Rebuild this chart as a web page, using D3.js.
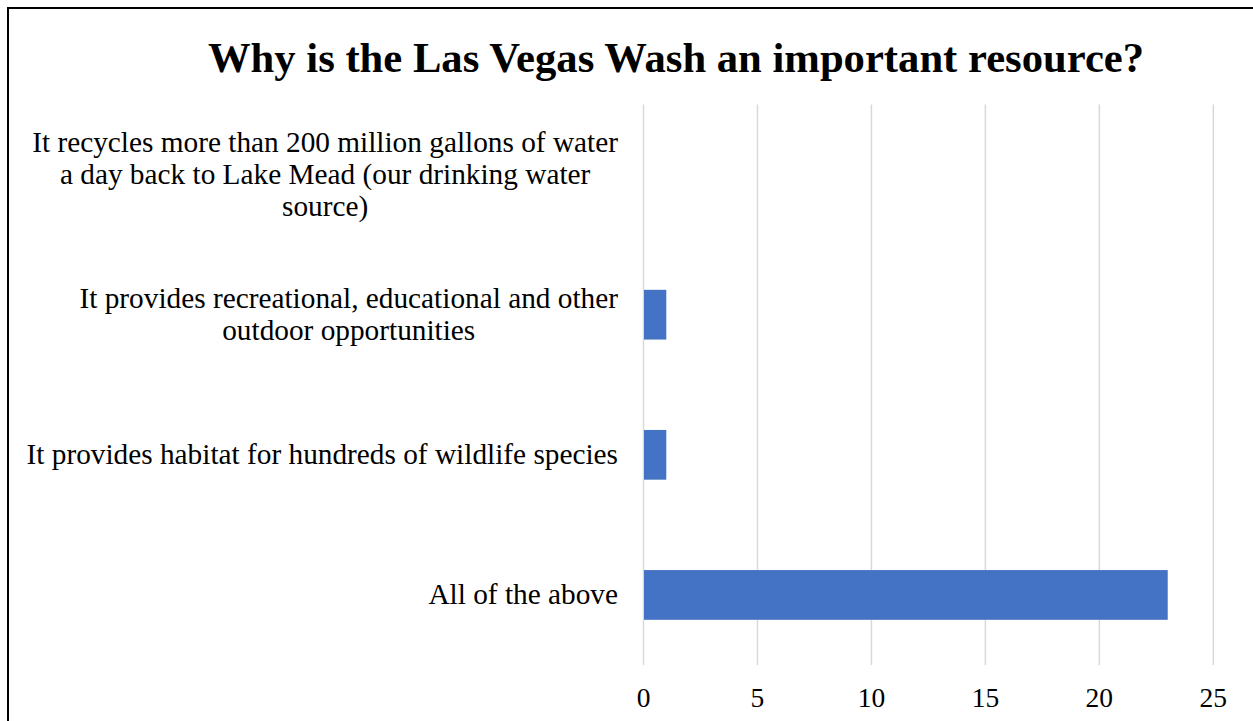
<!DOCTYPE html>
<html>
<head>
<meta charset="utf-8">
<script src="https://cdn.jsdelivr.net/npm/d3@7"></script>
<style>
  body { margin: 0; background: #fff; }
  text { font-family: "Liberation Serif", "Times New Roman", serif; fill: #000; }
</style>
</head>
<body>
<div id="chart"></div>
<script>
// answer options, top to bottom
var categories = [
  "It recycles more than 200 million gallons of water|a day back to Lake Mead (our drinking water|source)",
  "It provides recreational, educational and other|outdoor opportunities",
  "It provides habitat for hundreds of wildlife species",
  "All of the above"
];
var counts = [0, 1, 1, 23];
var xTicks = [0, 5, 10, 15, 20, 25];
var title = "Why is the Las Vegas Wash an important resource?";

var W = 1253, H = 721;
var margin = {top: 104.5, right: 40, bottom: 56, left: 643.5};

var svg = d3.select("#chart")
  .append("svg")
    .attr("width", W)
    .attr("height", H);

// chart border (only top/left visible in frame)
svg.append("rect")
  .attr("x", 8).attr("y", 8)
  .attr("width", W + 20).attr("height", H + 20)
  .attr("fill", "none")
  .attr("stroke", "#000")
  .attr("stroke-width", 2);

var x = d3.scaleLinear()
  .domain([0, 25])
  .range([margin.left, 1213.3]);

var y = d3.scaleBand()
  .domain(d3.range(categories.length))
  .range([margin.top, 665])
  .paddingInner(0.645)
  .paddingOuter(0.3225);

// gridlines
svg.append("g")
  .selectAll("line")
  .data(xTicks)
  .enter()
  .append("line")
    .attr("x1", function(d) { return x(d); })
    .attr("x2", function(d) { return x(d); })
    .attr("y1", margin.top)
    .attr("y2", 665)
    .attr("stroke", "#d9d9d9")
    .attr("stroke-width", 1.5);

// bars
svg.append("g")
  .selectAll("rect")
  .data(counts)
  .enter()
  .append("rect")
    .attr("x", x(0) + 0.5)
    .attr("y", function(d, i) { return y(i); })
    .attr("width", function(d) { return Math.max(0, x(d) - x(0) - 0.5); })
    .attr("height", y.bandwidth())
    .attr("fill", "#4472c4");

// x tick labels
svg.append("g")
  .selectAll("text")
  .data(xTicks)
  .enter()
  .append("text")
    .attr("x", function(d) { return x(d); })
    .attr("y", 707)
    .attr("text-anchor", "middle")
    .style("font-size", "27.5px")
    .text(function(d) { return d; });

// category labels: block right-aligned, lines centered within block
var labelRight = 618, lineH = 32;
var labels = svg.append("g")
  .selectAll("g")
  .data(categories)
  .enter()
  .append("g");

labels.each(function(d, i) {
  var g = d3.select(this);
  var lines = d.split("|");
  var cy = y(i) + y.bandwidth() / 2;
  var texts = lines.map(function(line, j) {
    return g.append("text")
      .attr("y", cy + (j - (lines.length - 1) / 2) * lineH + 9)
      .attr("text-anchor", "middle")
      .style("font-size", "29.3px")
      .text(line);
  });
  var maxW = d3.max(texts, function(t) { return t.node().getComputedTextLength(); });
  texts.forEach(function(t) { t.attr("x", labelRight - maxW / 2); });
});

// title
svg.append("text")
  .attr("x", 676)
  .attr("y", 72)
  .attr("text-anchor", "middle")
  .style("font-size", "42.67px")
  .style("font-weight", "bold")
  .text(title);
</script>
</body>
</html>
